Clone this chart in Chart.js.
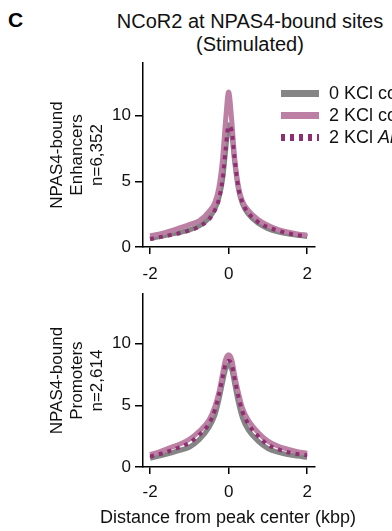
<!DOCTYPE html>
<html>
<head>
<meta charset="utf-8">
<script src="https://cdn.jsdelivr.net/npm/chart.js@4.4.0/dist/chart.umd.min.js"></script>
<style>
  body { margin: 0; background: #fff; font-family: "Liberation Sans", Arial, sans-serif; }
  #page { position: relative; width: 392px; height: 531px; overflow: hidden; }
  canvas { position: absolute; left: 0; }
  .panel-letter { position: absolute; left: 8px; top: 8px; font-size: 21px; font-weight: bold; }
  .title { position: absolute; left: 100px; width: 300px; text-align: center; font-size: 20px; line-height: 23px; top: 10px; color: #111; }
  .xtitle { position: absolute; left: 78px; width: 300px; text-align: center; font-size: 18px; top: 507px; color: #111; white-space: nowrap; }
  .legend { position: absolute; left: 281px; top: 82px; font-size: 18px; color: #111; }
  .legend-row { height: 22px; display: flex; align-items: center; white-space: nowrap; }
  .swatch { width: 38px; height: 7px; margin-right: 10px; }
</style>
</head>
<body>
<div id="page">
  <div class="panel-letter">C</div>
  <div class="title">NCoR2 at NPAS4-bound sites<br>(Stimulated)</div>
  <canvas id="enhancers" width="392" height="250" style="top:40px"></canvas>
  <canvas id="promoters" width="392" height="251" style="top:280px"></canvas>
  <div class="xtitle">Distance from peak center (kbp)</div>
  <div class="legend" id="legend"></div>
</div>
<script>
// distance from peak center (kbp)
const distance = [-2, -1.75, -1.5, -1.25, -1, -0.75, -0.5, -0.35, -0.25, -0.15, -0.08, 0, 0.08, 0.15, 0.25, 0.35, 0.5, 0.75, 1, 1.25, 1.5, 1.75, 2];

const seriesNames = ['0 KCl control shRNA', '2 KCl control shRNA', '2 KCl Ankrd shRNA'];

// enhancers, n=6,352
const enhancer0KCl = [0.65, 0.8, 0.95, 1.1, 1.3, 1.6, 2.2, 2.9, 3.7, 5.2, 7.2, 9.3, 8.6, 6.6, 4.4, 3.3, 2.5, 1.8, 1.4, 1.15, 1.0, 0.9, 0.8];
const enhancer2KCl = [0.85, 1.0, 1.2, 1.45, 1.7, 2.0, 2.7, 3.4, 4.5, 6.8, 9.5, 11.8, 9.6, 6.9, 4.6, 3.5, 2.8, 2.1, 1.65, 1.35, 1.15, 1.0, 0.9];
const enhancer2KClKd = [0.6, 0.75, 0.9, 1.05, 1.25, 1.55, 2.1, 2.8, 3.6, 5.2, 7.3, 9.2, 8.8, 6.8, 4.5, 3.4, 2.6, 1.9, 1.5, 1.25, 1.05, 0.9, 0.8];

// promoters, n=2,614
const promoter0KCl = [0.7, 0.9, 1.1, 1.35, 1.6, 2.2, 3.2, 4.2, 5.4, 6.9, 7.9, 8.3, 7.9, 6.8, 5.2, 4.0, 3.0, 2.1, 1.5, 1.2, 1.0, 0.88, 0.78];
const promoter2KCl = [1.0, 1.25, 1.55, 1.85, 2.25, 2.9, 3.8, 4.9, 6.0, 7.6, 8.7, 9.1, 8.7, 7.5, 6.0, 4.8, 3.8, 2.8, 2.1, 1.7, 1.45, 1.25, 1.1];
const promoter2KClKd = [0.85, 1.05, 1.3, 1.6, 1.95, 2.6, 3.5, 4.6, 5.8, 7.3, 8.3, 8.6, 8.3, 7.2, 5.7, 4.5, 3.5, 2.5, 1.8, 1.45, 1.2, 1.05, 0.95];

const xTicks = [-2, 0, 2];
const yTicks = [0, 5, 10];

const GRAY = '#858585';
const PINK = '#bb80a3';
const PLUM = '#8e2f72';
const FONT = "'Liberation Sans', Arial, sans-serif";

function points(values) {
  return values.map((v, i) => ({ x: distance[i], y: v }));
}

function makeDatasets(vals0, vals2, vals2kd) {
  return [
    { label: seriesNames[2], data: points(vals2kd), borderColor: PLUM, borderWidth: 4, borderDash: [4, 5], order: 0 },
    { label: seriesNames[1], data: points(vals2), borderColor: PINK, borderWidth: 5, order: 1 },
    { label: seriesNames[0], data: points(vals0), borderColor: GRAY, borderWidth: 5, order: 2 }
  ];
}

function makeChart(id, datasets, yTitle, lower) {
  const ctx = document.getElementById(id).getContext('2d');
  return new Chart(ctx, {
    type: 'line',
    data: { datasets },
    options: {
      responsive: false,
      animation: false,
      cubicInterpolationMode: 'monotone',
      elements: { point: { radius: 0 }, line: { borderCapStyle: 'butt' } },
      layout: { padding: { top: lower ? 3 : 23, left: 0, right: 77, bottom: 0 } },
      plugins: { legend: { display: false }, tooltip: { enabled: false } },
      scales: {
        x: {
          type: 'linear',
          min: -2.18,
          max: 2.2,
          afterBuildTicks: (scale) => { scale.ticks = xTicks.map(v => ({ value: v })); },
          afterFit: (scale) => { scale.height = lower ? 64 : 43; },
          grid: { drawOnChartArea: false, color: '#000', tickLength: 7, lineWidth: 1.5 },
          border: { color: '#000', width: 1.5 },
          ticks: { color: '#111', font: { family: FONT, size: 17 }, padding: lower ? 8 : 10, maxRotation: 0 }
        },
        y: {
          min: 0,
          max: 14,
          afterBuildTicks: (scale) => { scale.ticks = yTicks.map(v => ({ value: v })); },
          afterFit: (scale) => { scale.width = 143; },
          grid: { drawOnChartArea: false, color: '#000', tickLength: 8, lineWidth: 1.5 },
          border: { color: '#000', width: 1.5 },
          ticks: { color: '#111', font: { family: FONT, size: 17 }, padding: 4 },
          title: {
            display: true,
            text: yTitle,
            color: '#111',
            font: { family: FONT, size: 17, lineHeight: 1.18 },
            padding: { top: 47, bottom: 0 }
          }
        }
      }
    }
  });
}

makeChart('enhancers', makeDatasets(enhancer0KCl, enhancer2KCl, enhancer2KClKd),
  ['NPAS4-bound', 'Enhancers', 'n=6,352'], false);
makeChart('promoters', makeDatasets(promoter0KCl, promoter2KCl, promoter2KClKd),
  ['NPAS4-bound', 'Promoters', 'n=2,614'], true);

// legend drawn as html next to the upper panel
const legendStyles = [
  `background:${GRAY}`,
  `background:${PINK}`,
  `background:repeating-linear-gradient(90deg, ${PLUM} 0 4.5px, transparent 4.5px 9px)`
];
const legendEl = document.getElementById('legend');
seriesNames.forEach((name, i) => {
  const row = document.createElement('div');
  row.className = 'legend-row';
  const label = i === 2 ? '2 KCl <i>Ankrd</i> shRNA' : name;
  row.innerHTML = `<span class="swatch" style="${legendStyles[i]}"></span><span>${label}</span>`;
  legendEl.appendChild(row);
});
</script>
</body>
</html>
